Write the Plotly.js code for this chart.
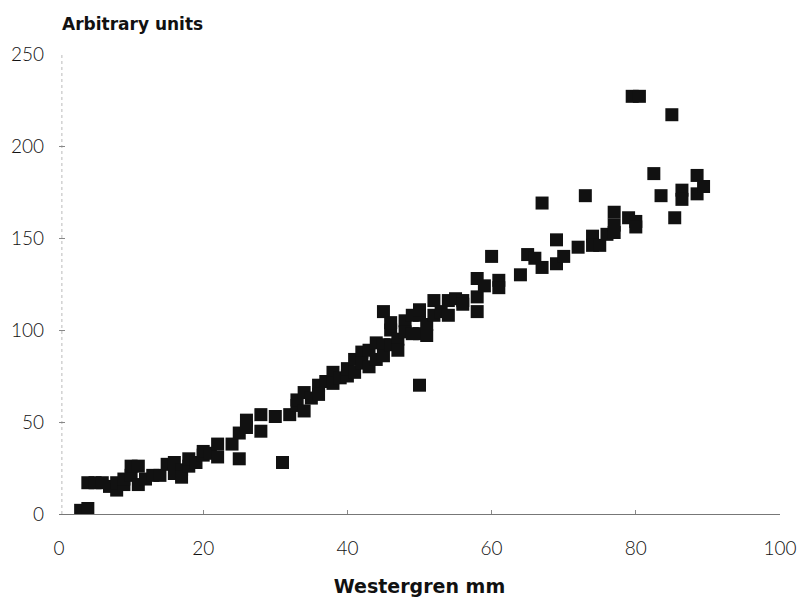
<!DOCTYPE html>
<html>
<head>
<meta charset="utf-8">
<script src="https://cdn.plot.ly/plotly-3.0.1.min.js"></script>
<style>html,body{margin:0;padding:0;background:#fff;}#chart{width:799px;height:598px;}</style>
</head>
<body>
<div id="chart"></div>
<script>
const westergren = [
  3, 4, 4, 5, 6, 7, 8, 8, 9, 9, 10, 10, 11, 11, 12, 13, 14, 15, 16, 16,
  17, 17, 18, 18, 19, 20, 20, 21, 22, 22, 24, 25, 25, 26, 26, 28, 28, 30, 31, 32,
  33, 33, 34, 34, 35, 36, 36, 37, 38, 38, 39, 40, 40, 41, 41, 42, 42, 43, 43, 44,
  44, 45, 45, 45, 46, 46, 46, 47, 47, 48, 48, 49, 49, 50, 50, 50, 50, 51, 51, 52,
  52, 53, 54, 54, 55, 56, 56, 58, 58, 58, 59, 60, 61, 61, 64, 65, 66, 67, 67, 69,
  69, 70, 72, 73, 74, 74, 75, 76, 77, 77, 77, 79, 80, 80, 79.5, 80.5, 82.5, 83.5, 85, 85.4,
  86.4, 86.4, 88.5, 88.5, 89.4
];
const arbitraryUnits = [
  2, 3, 17, 17, 17, 15, 13, 17, 16, 19, 21, 26, 26, 16, 19, 21, 21, 27, 28, 22,
  24, 20, 26, 30, 28, 32, 34, 33, 31, 38, 38, 30, 44, 51, 47, 54, 45, 53, 28, 54,
  59, 62, 56, 66, 63, 70, 65, 72, 77, 71, 74, 75, 79, 84, 77, 88, 82, 89, 80, 84,
  93, 92, 110, 86, 100, 92, 104, 95, 89, 105, 99, 98, 108, 108, 98, 70, 111, 97, 103, 116,
  108, 110, 116, 108, 117, 116, 114, 128, 118, 110, 124, 140, 127, 123, 130, 141, 139, 134, 169, 149,
  136, 140, 145, 173, 151, 146, 146, 152, 164, 157, 153, 161, 159, 156, 227, 227, 185, 173, 217, 161,
  176, 171, 184, 174, 178
];
const xTickVals = [0, 20, 40, 60, 80, 100];
const yTickVals = [0, 50, 100, 150, 200, 250];

const tickFont = {family: 'Lato, "DejaVu Sans", sans-serif', size: 19, color: '#111', weight: 300};
const titleFont = {family: '"DejaVu Sans", sans-serif', size: 17, color: '#111', weight: 700};
const xTitleFont = {family: '"DejaVu Sans", sans-serif', size: 19, color: '#111', weight: 700};

const trace = {
  type: 'scatter',
  mode: 'markers',
  x: westergren,
  y: arbitraryUnits,
  marker: {symbol: 'square', size: 13, color: '#111', line: {width: 0}},
  hoverinfo: 'x+y'
};

const layout = {
  width: 799,
  height: 598,
  margin: {l: 59, r: 19, t: 54, b: 84},
  paper_bgcolor: '#fff',
  plot_bgcolor: '#fff',
  showlegend: false,
  title: {
    text: 'Arbitrary units',
    font: titleFont,
    x: 62 / 799, xref: 'container', xanchor: 'left',
    y: 1 - 24 / 598, yref: 'container', yanchor: 'middle'
  },
  xaxis: {
    range: [0, 100],
    tickvals: xTickVals,
    ticktext: xTickVals.map(String),
    showgrid: false,
    zeroline: false,
    showline: true,
    linecolor: '#777',
    linewidth: 1,
    ticks: 'inside',
    ticklen: 4,
    tickcolor: '#888',
    tickfont: tickFont,
    ticklabelstandoff: 17,
    title: {text: 'Westergren mm', font: xTitleFont, standoff: 21}
  },
  yaxis: {
    range: [0, 250],
    tickvals: yTickVals,
    ticktext: yTickVals.map(String),
    showgrid: false,
    zeroline: false,
    showline: false,
    ticks: 'inside',
    ticklen: 6,
    tickcolor: '#888',
    tickfont: tickFont,
    ticklabelstandoff: 14
  },
  shapes: [{
    type: 'line', xref: 'paper', yref: 'paper',
    x0: 0.004, x1: 0.004, y0: 0, y1: 1,
    line: {color: '#bbb', width: 1, dash: 'dot'},
    layer: 'below'
  }]
};

Plotly.newPlot('chart', [trace], layout, {displayModeBar: false, staticPlot: true});
</script>
</body>
</html>
